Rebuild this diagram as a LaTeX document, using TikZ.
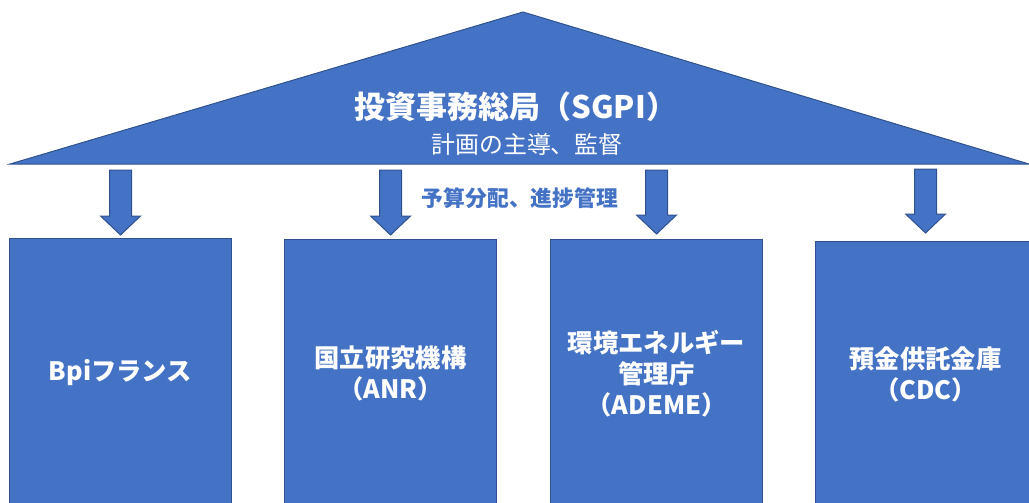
\documentclass[tikz,border=0pt]{standalone}
\usepackage{fontspec}
\newfontfamily\jp{Noto Sans CJK JP}
\usetikzlibrary{calc}
\definecolor{ofblue}{HTML}{4472C4}
\definecolor{ofedge}{HTML}{2F528F}
\tikzset{
  orgbox/.style={draw=ofedge, fill=ofblue, line width=0.7pt, anchor=north west,
    text=white, font=\jp\bfseries\fontsize{18}{22}\selectfont, align=center, inner sep=0pt},
  arrowblk/.style={draw=ofedge, fill=ofblue, line width=0.7pt, line join=miter}
}
\begin{document}
\begin{tikzpicture}[x=0.025cm, y=-0.025cm]
  \useasboundingbox (0,0) rectangle (1029,502);
  % roof
  \draw[arrowblk] (10,164) -- (523,12) -- (1029,164) -- cycle;
  \node[text=white, font=\jp\bfseries\fontsize{22}{25}\selectfont] (sgpi) at (516,107) {投資事務総局（SGPI）};
  \node[text=white, font=\jp\fontsize{17}{19}\selectfont] (role) at (527,144) {計画の主導、監督};
  % boxes
  \node[orgbox, minimum width=5.55cm, minimum height=6.725cm] (bpi) at (9,238) {Bpiフランス};
  \node[orgbox, minimum width=5.3cm, minimum height=6.7cm] (anr) at (284,239) {国立研究機構\\（ANR）};
  \node[orgbox, minimum width=5.3cm, minimum height=6.7cm] (ademe) at (550,239) {環境エネルギー\\管理庁\\（ADEME）};
  \node[orgbox, minimum width=5.5cm, minimum height=6.65cm] (cdc) at (815,241) {預金供託金庫\\（CDC）};
  % arrows
  \foreach \b/\gap/\len in {bpi/3/46,anr/4/46,ademe/5/45,cdc/8/45}
    \draw[arrowblk] ($(\b.north)+(0,-\gap)$) -- ++(-20,-19) -- ++(9,0) -- ++(0,-\len)
      -- ++(22,0) -- ++(0,\len) -- ++(9,0) -- cycle;
  \node[text=ofblue, font=\jp\bfseries\fontsize{15.5}{18}\selectfont] (budget) at (520,198) {予算分配、進捗管理};
\end{tikzpicture}
\end{document}
